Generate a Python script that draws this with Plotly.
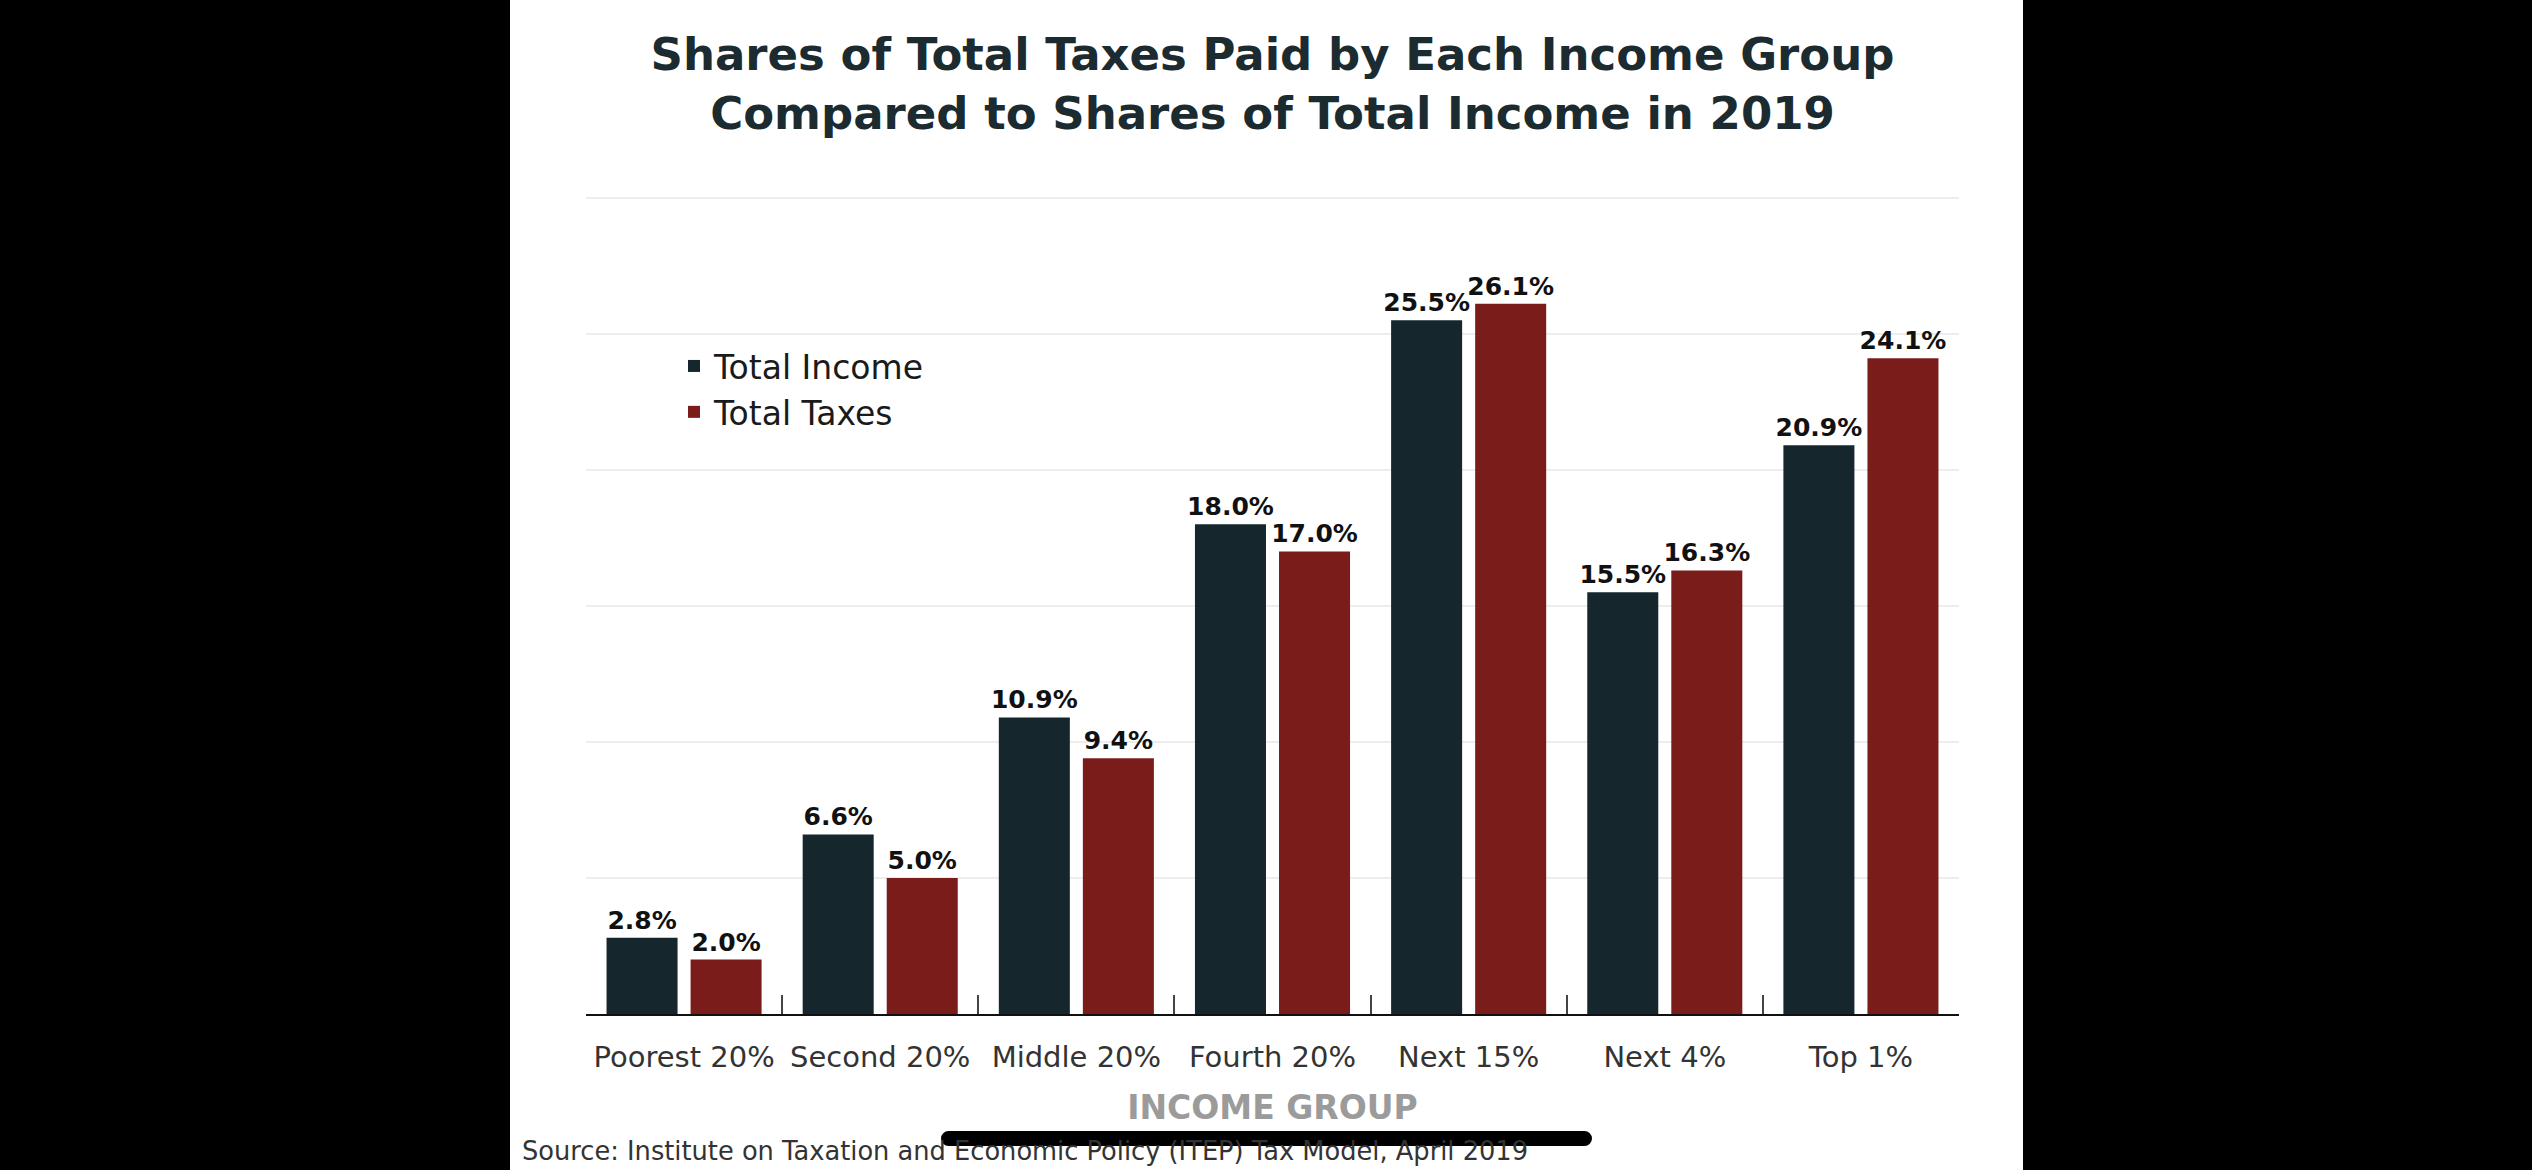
import plotly.graph_objects as go

# ---- data ----
categories = ["Poorest 20%", "Second 20%", "Middle 20%", "Fourth 20%", "Next 15%", "Next 4%", "Top 1%"]
total_income = [2.8, 6.6, 10.9, 18.0, 25.5, 15.5, 20.9]
total_taxes = [2.0, 5.0, 9.4, 17.0, 26.1, 16.3, 24.1]
series_names = ["Total Income", "Total Taxes"]
series_colors = ["#15262D", "#7A1C1A"]
boundaries = [0.5, 1.5, 2.5, 3.5, 4.5, 5.5]
y_max = 30.1

title_text = "Shares of Total Taxes Paid by Each Income Group<br>Compared to Shares of Total Income in 2019"
xaxis_title = "INCOME GROUP"
source_text = "Source: Institute on Taxation and Economic Policy (ITEP) Tax Model, April 2019"

# ---- layout geometry (pixels) ----
W, H = 2532, 1170
L, R, B = 586, 1959, 1014
UNIT = (1014 - 198) / 30.0
T = round(B - y_max * UNIT)
PW, PH = R - L, B - T


def px_x(px):
    return (px - L) / PW


def px_y(py):
    return (B - py) / PH


FONT = "DejaVu Sans"

fig = go.Figure()
for name, vals, col in zip(series_names, [total_income, total_taxes], series_colors):
    fig.add_trace(go.Bar(
        x=categories, y=vals, name=name,
        marker=dict(color=col, line=dict(width=0)),
        text=[f"{v:.1f}%" for v in vals],
        textposition="outside",
        constraintext="none",
        textfont=dict(family=FONT, size=25, color="#111111", weight="bold"),
        cliponaxis=False,
    ))

# invisible helper trace carrying the group-boundary ticks on an overlay axis
fig.add_trace(go.Scatter(x=boundaries, y=[0] * len(boundaries), xaxis="x2", mode="markers",
                         marker=dict(opacity=0), showlegend=False, hoverinfo="skip"))

fig.update_layout(
    width=W, height=H,
    margin=dict(l=L, r=W - R, t=T, b=H - B, pad=0),
    paper_bgcolor="#000000",
    plot_bgcolor="rgba(0,0,0,0)",
    barmode="group",
    bargap=0.143,
    bargroupgap=0.155,
    title=dict(
        text=f"<b>{title_text}</b>",
        font=dict(family=FONT, size=45, color="#1B2B30"),
        x=0.5, xref="paper", xanchor="center",
        y=1 - 70 / H, yref="container", yanchor="middle",
    ),
    xaxis=dict(
        type="category",
        showline=True, linecolor="#111111", linewidth=2,
        ticks="", showgrid=False,
        tickfont=dict(family=FONT, size=29, color="#333333"),
        ticklabelstandoff=16,
        title=dict(text=f"<b>{xaxis_title}</b>", font=dict(family=FONT, size=33, color="#9B9B9B"), standoff=23),
        range=[-0.5, 6.5],
    ),
    xaxis2=dict(
        overlaying="x", anchor="y", side="bottom",
        range=[-0.5, 6.5], tickvals=boundaries,
        ticks="inside", ticklen=19, tickwidth=2, tickcolor="#444444",
        showticklabels=False, showgrid=False, showline=False, zeroline=False,
    ),
    yaxis=dict(
        range=[0, y_max], tickvals=[0, 5, 10, 15, 20, 25, 30], showticklabels=False,
        showgrid=True, gridcolor="#EDEDED", gridwidth=2,
        zeroline=False, showline=False, ticks="",
    ),
    legend=dict(
        x=px_x(674), y=px_y(338), xanchor="left", yanchor="top",
        font=dict(family=FONT, size=33, color="#1A1A1A"),
        bgcolor="rgba(0,0,0,0)", tracegroupgap=0,
    ),
    showlegend=True,
)

# white page panel behind the chart
fig.add_shape(type="rect", xref="paper", yref="paper", layer="below",
              x0=px_x(510), x1=px_x(2023), y0=px_y(H), y1=px_y(0),
              fillcolor="#FFFFFF", line=dict(width=0))

# source note
fig.add_annotation(text=source_text, xref="paper", yref="paper",
                   x=px_x(520), y=px_y(1151), xanchor="left", yanchor="middle",
                   showarrow=False, font=dict(family=FONT, size=25.7, color="#333333"))

# phone home-indicator bar overlaying the screenshot
hx0, hx1, hy0, hy1 = 941, 1592, 1131, 1146
r = (hy1 - hy0) / 2
fig.add_shape(type="rect", xref="paper", yref="paper", layer="above",
              x0=px_x(hx0 + r), x1=px_x(hx1 - r), y0=px_y(hy1), y1=px_y(hy0),
              fillcolor="#000000", line=dict(width=0))
for cx in (hx0 + r, hx1 - r):
    fig.add_shape(type="circle", xref="paper", yref="paper", layer="above",
                  x0=px_x(cx - r), x1=px_x(cx + r), y0=px_y(hy1), y1=px_y(hy0),
                  fillcolor="#000000", line=dict(width=0))

fig.write_html("out.html")
